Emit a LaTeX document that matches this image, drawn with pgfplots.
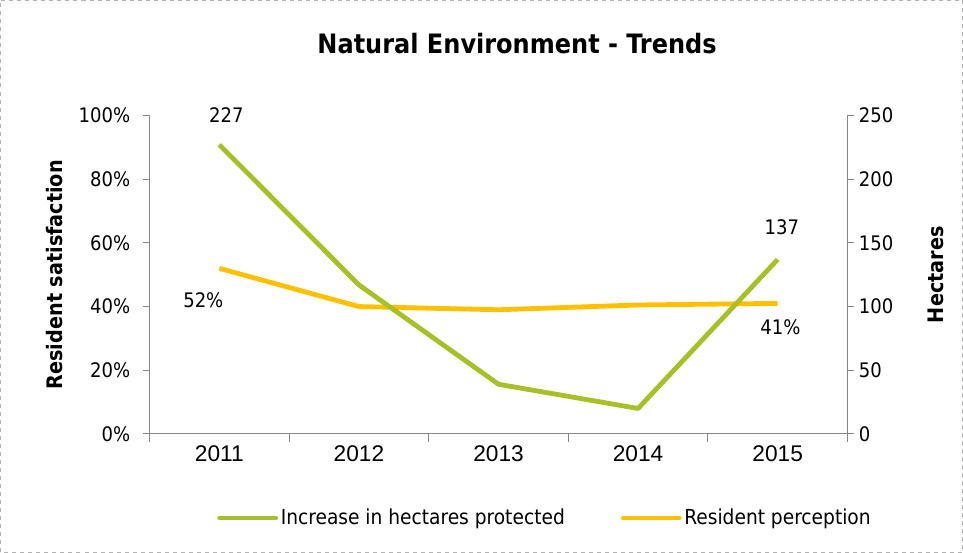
\documentclass[border=0pt]{standalone}
\usepackage{pgfplots}
\pgfplotsset{compat=1.18}
\usepackage{fontspec}
\setmainfont{DejaVu Sans Condensed}
\newfontfamily\arialfont{Liberation Sans}
\definecolor{LeafGreen}{RGB}{169,191,38}
\definecolor{Amber}{RGB}{255,192,0}
\definecolor{AxisGray}{RGB}{134,134,134}

\pgfplotsset{
  chartbase/.style={
    scale only axis,
    width=522.75pt, height=238.5pt,
    at={(0,0)}, anchor=south west,
    xmin=-0.5, xmax=4.5,
    clip=false,
    /pgf/number format/assume math mode=true,
    tick label style={font=\fontsize{15}{18}\selectfont},
    label style={font=\bfseries\fontsize{16}{19}\selectfont},
    axis line style={AxisGray, line width=0.8pt},
    tick style={AxisGray, line width=0.8pt},
    tick align=outside,
    major tick length=5pt,
  },
}

\begin{document}
\begin{tikzpicture}
  % outer dashed frame
  \draw[dashed, gray!60, line width=0.6pt] (-111.75pt,-88.5pt) rectangle ++(720.75pt,413.25pt);

  \node[font=\bfseries\fontsize{20}{24}\selectfont] at (275.25pt,292.5pt) {Natural Environment - Trends};

  % left axis: resident perception
  \begin{axis}[
    chartbase,
    axis x line*=bottom, axis y line*=left,
    ymin=0, ymax=1,
    ytick={0,0.2,...,1},
    yticklabel={\pgfmathparse{\tick*100}\pgfmathprintnumber[fixed,precision=0]{\pgfmathresult}\%},
    y tick label style={xshift=-6pt},
    xtick={0,1,2,3,4},
    xticklabels={2011,2012,2013,2014,2015},
    x tick label style={font=\arialfont\fontsize{17}{20}\selectfont},
    minor xtick={-0.5,0.5,1.5,2.5,3.5,4.5},
    minor tick length=6pt,
    every major x tick/.style={draw=none},
    ylabel={Resident satisfaction},
    ylabel style={at={(axis description cs:-0.1365,0.5)}, anchor=center},
  ]
    \addplot[Amber, line width=3.6pt, line join=round] coordinates {
      (0,0.52) (1,0.40) (2,0.39) (3,0.405) (4,0.41)
    };
    \node[font=\fontsize{15}{18}\selectfont] at (axis cs:-0.115,0.42) {52\%};
    \node[font=\fontsize{15}{18}\selectfont] at (axis cs:4.02,0.335) {41\%};
  \end{axis}

  % right axis: hectares
  \begin{axis}[
    chartbase,
    axis x line=none, axis y line*=right,
    ymin=0, ymax=250,
    ytick={0,50,...,250},
    ylabel={Hectares},
    ylabel style={at={(axis description cs:1.126,0.5)}, anchor=center},
    legend style={at={(axis description cs:0.567,-0.264)}, anchor=center,
      draw=none, fill=none, legend columns=2,
      font=\fontsize{15.5}{18}\selectfont,
      /tikz/every even column/.append style={column sep=40pt}},
    legend cell align=left,
    legend image code/.code={\draw[#1, line cap=round] (0pt,0pt) -- (42pt,0pt);},
  ]
    \addplot[LeafGreen, line width=3.6pt, line join=round] coordinates {
      (0,227) (1,117) (2,39) (3,20) (4,137)
    };
    \addlegendentry{Increase in hectares protected}
    \addlegendimage{Amber, line width=3.6pt}
    \addlegendentry{Resident perception}
    \node[font=\fontsize{15}{18}\selectfont] at (axis cs:0.05,250) {227};
    \node[font=\fontsize{15}{18}\selectfont] at (axis cs:4.03,162) {137};
  \end{axis}
\end{tikzpicture}
\end{document}
